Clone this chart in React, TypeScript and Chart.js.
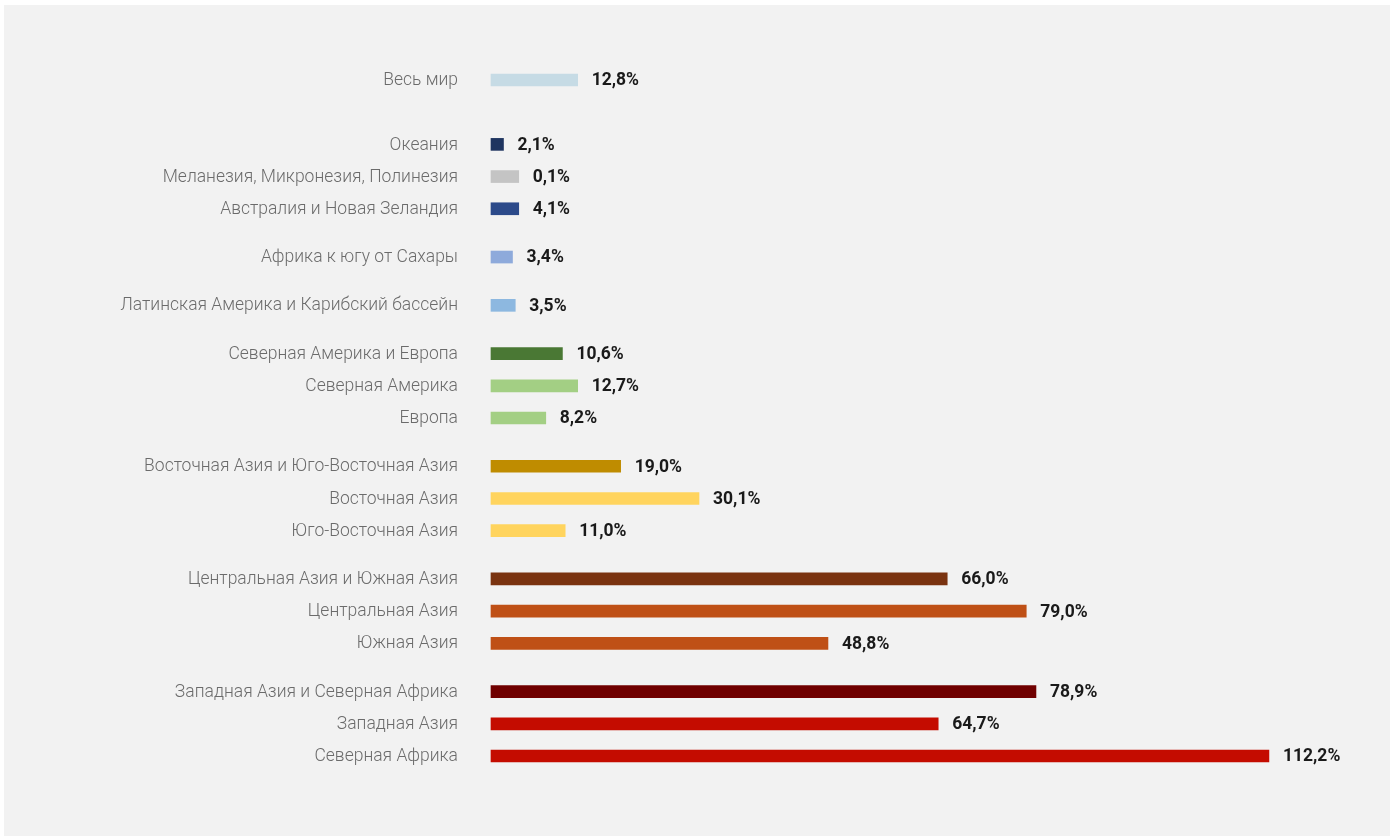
import { useEffect, useRef } from "react";
import { Chart, registerables } from "chart.js";

Chart.register(...registerables);

const categories = [
  "Весь мир",
  "Океания",
  "Меланезия, Микронезия, Полинезия",
  "Австралия и Новая Зеландия",
  "Африка к югу от Сахары",
  "Латинская Америка и Карибский бассейн",
  "Северная Америка и Европа",
  "Северная Америка",
  "Европа",
  "Восточная Азия и Юго-Восточная Азия",
  "Восточная Азия",
  "Юго-Восточная Азия",
  "Центральная Азия и Южная Азия",
  "Центральная Азия",
  "Южная Азия",
  "Западная Азия и Северная Африка",
  "Западная Азия",
  "Северная Африка",
];

const barValues = [12.5, 1.8, 4.0, 4.0, 3.1, 3.5, 10.3, 12.5, 7.9, 18.7, 30.0, 10.7, 65.8, 77.2, 48.6, 78.6, 64.5, 112.2];

const valueLabels = [
  "12,8%", "2,1%", "0,1%", "4,1%", "3,4%", "3,5%", "10,6%", "12,7%", "8,2%",
  "19,0%", "30,1%", "11,0%", "66,0%", "79,0%", "48,8%", "78,9%", "64,7%", "112,2%",
];

const barColors = [
  "#c6dbe5", "#1f3560", "#c4c4c4", "#2c4a8a", "#8eaadb", "#8db8e0",
  "#4a7834", "#a3cf84", "#a3cf84", "#bf8c00", "#ffd45e", "#ffd45e",
  "#7a3310", "#bf5016", "#bf5016", "#700000", "#c40c00", "#c40c00",
];

// number of regions in each visual group (top to bottom)
const groupSizes = [1, 3, 1, 1, 3, 3, 3, 3];

export default function App() {
  const canvasRef = useRef<HTMLCanvasElement | null>(null);

  useEffect(() => {
    if (!canvasRef.current) return;

    const slotLabels: string[] = [];
    const slotValues: (number | null)[] = [];
    const slotColors: string[] = [];
    const slotTexts: string[] = [];
    const pushBlank = () => {
      slotLabels.push("");
      slotValues.push(null);
      slotColors.push("transparent");
      slotTexts.push("");
    };
    let idx = 0;
    groupSizes.forEach((n, g) => {
      if (g > 0) {
        const gap = g === 1 ? 3 : 2;
        for (let k = 0; k < gap; k++) pushBlank();
      }
      for (let i = 0; i < n; i++) {
        if (i > 0) pushBlank();
        slotLabels.push(categories[idx]);
        slotValues.push(barValues[idx]);
        slotColors.push(barColors[idx]);
        slotTexts.push(valueLabels[idx]);
        idx++;
      }
    });

    const valueLabelPlugin = {
      id: "valueLabels",
      afterDatasetsDraw(chart: any) {
        const ctx = chart.ctx;
        const meta = chart.getDatasetMeta(0);
        ctx.save();
        ctx.font = "bold 17.5px Roboto";
        ctx.fillStyle = "#1a1a1a";
        ctx.textBaseline = "middle";
        ctx.textAlign = "left";
        meta.data.forEach((el: any, i: number) => {
          if (slotValues[i] == null) return;
          ctx.fillText(slotTexts[i], el.x + 14, el.y + 1);
        });
        ctx.restore();
      },
    };

    const chart = new Chart(canvasRef.current, {
      type: "bar",
      data: {
        labels: slotLabels,
        datasets: [
          {
            data: slotValues,
            backgroundColor: slotColors,
            barThickness: 12,
            clip: false as any,
          },
        ],
      },
      options: {
        indexAxis: "y",
        responsive: true,
        maintainAspectRatio: false,
        animation: false,
        layout: { padding: { top: 75, bottom: 80, left: 0, right: 67 } },
        scales: {
          x: { type: "linear", min: 0, max: 120, display: false },
          y: {
            type: "category",
            offset: false,
            grid: { display: false },
            border: { display: false },
            ticks: {
              autoSkip: false,
              padding: 25,
              color: "#6b6b6b",
              font: { family: "'Roboto Light', Roboto", size: 17.5, weight: 300 as any },
            },
            afterFit: (s: any) => {
              s.width = 487;
            },
          },
        },
        plugins: {
          legend: { display: false },
          tooltip: { enabled: false },
        },
      },
      plugins: [valueLabelPlugin],
    });

    return () => chart.destroy();
  }, []);

  return (
    <div
      style={{
        position: "absolute",
        left: 4,
        top: 5,
        width: 1386,
        height: 831,
        background: "#f2f2f2",
      }}
    >
      <canvas ref={canvasRef} />
    </div>
  );
}
